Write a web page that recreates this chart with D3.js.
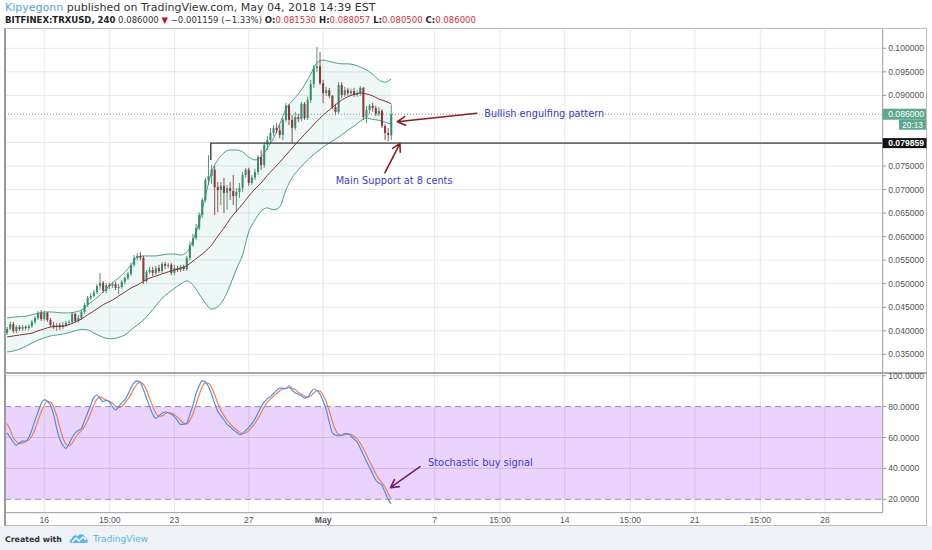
<!DOCTYPE html>
<html><head><meta charset="utf-8">
<script src="https://cdn.jsdelivr.net/npm/d3@7"></script>
<style>body{margin:0;background:#fff}svg{display:block}</style>
</head><body><svg id="c" width="932" height="550"></svg>
<script>
// ---------------- DATA ----------------
const candleStart = "2018-04-14T00:00:00Z";
const candleHours = 4;
const open = [.0395,.0404,.0414,.0400,.0408,.0404,.0408,.0406,.0410,.0419,
.0427,.0438,.0425,.0438,.0423,.0412,.0408,.0412,.0408,.0412,
.0417,.0419,.0436,.0421,.0427,.0440,.0455,.0470,.0474,.0482,
.0495,.0502,.0485,.0497,.0495,.0499,.0491,.0493,.0504,.0512,
.0521,.0540,.0555,.0559,.0555,.0506,.0525,.0529,.0523,.0533,
.0527,.0542,.0538,.0540,.0523,.0533,.0529,.0536,.0531,.0555,
.0582,.0597,.0618,.0646,.0678,.0720,.0729,.0742,.0705,.0699,
.0708,.0693,.0703,.0697,.0686,.0695,.0703,.0731,.0742,.0714,
.0725,.0737,.0769,.0752,.0795,.0805,.0820,.0831,.0826,.0816,
.0848,.0878,.0848,.0831,.0854,.0850,.0882,.0852,.0890,.0924,
.0958,.0962,.0926,.0905,.0911,.0899,.0875,.0865,.0922,.0901,
.0911,.0905,.0909,.0901,.0905,.0916,.0854,.0869,.0878,.0873,
.0861,.0867,.0835,.0820,.08153];
const high = [.0408,.0419,.0419,.0412,.0412,.0412,.0412,.0414,.0423,.0431,
.0442,.0444,.0442,.0440,.0427,.0419,.0417,.0417,.0419,.0421,
.0423,.0440,.0438,.0434,.0444,.0459,.0474,.0480,.0487,.0499,
.0523,.0506,.0502,.0502,.0504,.0504,.0499,.0508,.0516,.0525,
.0544,.0561,.0565,.0567,.0559,.0529,.0536,.0536,.0538,.0540,
.0546,.0546,.0544,.0544,.0540,.0538,.0540,.0540,.0559,.0589,
.0606,.0627,.0652,.0682,.0725,.0773,.0752,.0750,.0716,.0716,
.0725,.0710,.0716,.0731,.0703,.0714,.0737,.0746,.0746,.0731,
.0744,.0773,.0784,.0801,.0814,.0831,.0837,.0841,.0837,.0852,
.0884,.0882,.0858,.0865,.0861,.0886,.0886,.0897,.0933,.0965,
.1003,.0992,.0933,.0918,.0916,.0901,.0882,.0928,.0928,.0918,
.0916,.0914,.0916,.0911,.0920,.0918,.0878,.0882,.0884,.0878,
.0875,.0871,.0839,.0831,.088057];
const low = [.0391,.0402,.0395,.0395,.0400,.0400,.0402,.0402,.0406,.0414,
.0423,.0421,.0421,.0419,.0408,.0404,.0400,.0402,.0404,.0408,
.0412,.0414,.0417,.0417,.0423,.0436,.0451,.0465,.0470,.0478,
.0487,.0480,.0480,.0489,.0491,.0487,.0478,.0489,.0499,.0508,
.0516,.0536,.0550,.0550,.0499,.0502,.0521,.0516,.0518,.0523,
.0523,.0531,.0533,.0518,.0518,.0525,.0525,.0527,.0527,.0550,
.0578,.0593,.0614,.0640,.0673,.0710,.0712,.0646,.0652,.0667,
.0650,.0657,.0678,.0667,.0652,.0682,.0695,.0725,.0708,.0710,
.0720,.0731,.0742,.0746,.0784,.0799,.0814,.0820,.0809,.0805,
.0843,.0837,.0799,.0826,.0843,.0845,.0848,.0848,.0884,.0916,
.0950,.0922,.0884,.0899,.0894,.0871,.0858,.0861,.0894,.0897,
.0899,.0899,.0897,.0897,.0899,.0848,.0841,.0861,.0865,.0856,
.0856,.0831,.0805,.0803,.0805];
const close = [.0404,.0414,.0400,.0408,.0404,.0408,.0406,.0410,.0419,.0427,
.0438,.0425,.0438,.0423,.0412,.0408,.0412,.0408,.0412,.0417,
.0419,.0436,.0421,.0427,.0440,.0455,.0470,.0474,.0482,.0495,
.0502,.0485,.0497,.0495,.0499,.0491,.0493,.0504,.0512,.0521,
.0540,.0555,.0559,.0555,.0506,.0525,.0529,.0523,.0533,.0527,
.0542,.0538,.0540,.0523,.0533,.0529,.0536,.0531,.0555,.0582,
.0597,.0618,.0646,.0678,.0720,.0729,.0742,.0705,.0699,.0708,
.0693,.0703,.0697,.0686,.0695,.0703,.0731,.0742,.0714,.0725,
.0737,.0769,.0752,.0795,.0805,.0820,.0831,.0826,.0816,.0848,
.0878,.0848,.0831,.0854,.0850,.0882,.0852,.0890,.0924,.0958,
.0962,.0926,.0905,.0911,.0899,.0875,.0865,.0922,.0901,.0911,
.0905,.0909,.0901,.0905,.0916,.0854,.0869,.0878,.0873,.0861,
.0867,.0835,.0820,.0816,.0860];

// Bollinger Bands (20, 2) read every 2nd candle
const bbEvery = 2;
const bbUpper = [.0427,.0429,.0430,.0431,.0434,.0437,.0440,.0440,.0439,.0438,
.0438,.0440,.0444,.0455,.0465,.0476,.0489,.0502,.0512,.0525,
.0540,.0557,.0559,.0559,.0559,.0561,.0563,.0563,.0561,.0567,
.0593,.0631,.0686,.0737,.0763,.0778,.0784,.0784,.0780,.0769,
.0763,.0769,.0788,.0809,.0839,.0871,.0888,.0903,.0922,.0945,
.0969,.0975,.0972,.0969,.0967,.0967,.0965,.0960,.0954,.0945,
.0933,.0928,.0935];
const bbMiddle = [.0387,.0389,.0391,.0393,.0395,.0400,.0404,.0408,.0409,.0410,
.0413,.0419,.0425,.0434,.0442,.0451,.0459,.0465,.0474,.0482,
.0491,.0497,.0505,.0512,.0516,.0521,.0525,.0529,.0533,.0538,
.0548,.0558,.0569,.0582,.0601,.0618,.0638,.0654,.0669,.0686,
.0701,.0714,.0730,.0744,.0758,.0773,.0788,.0803,.0817,.0831,
.0845,.0858,.0869,.0880,.0890,.0897,.0902,.0905,.0903,.0899,
.0892,.0888,.0882];
const bbLower = [.0355,.0357,.0361,.0367,.0374,.0380,.0385,.0389,.0391,.0393,
.0396,.0400,.0403,.0402,.0395,.0389,.0384,.0383,.0386,.0391,
.0402,.0412,.0423,.0437,.0453,.0469,.0480,.0490,.0499,.0506,
.0497,.0478,.0459,.0446,.0451,.0468,.0497,.0531,.0561,.0610,
.0635,.0654,.0661,.0657,.0663,.0699,.0725,.0742,.0756,.0769,
.0780,.0790,.0799,.0807,.0816,.0826,.0835,.0845,.0852,.0849,
.0847,.0843,.0839];

// Stochastic %K and %D, one per candle
const stochK = [63,60,57,55,56.5,57.7,57.7,60,65,71,
76.5,82,84.3,83.5,81,75,66,59,55,53,
56,60,63,64.5,66,71,76,81,86,87.5,
85.3,83.2,84,83,80,77.8,80,82.5,84.3,88,
92,95.5,96.6,95.5,91,85.5,80,75,72.4,74,
75.7,76.5,76,75,73.5,71,68.5,68.5,69.5,75,
81,88.5,93.5,96.6,95.8,93,88,82,77,74,
71.5,68.5,67,65,63.5,61.8,62.5,64.5,66.5,69,
72,76,80,83,85,86.5,88.5,90.5,92,92,
91.5,93.5,90.5,89,88,87,85.5,86,89,91.4,
90.5,88,83.5,78,70,63,61.5,61.2,61.5,62.5,
62.5,61,59,57,53,48.7,44.5,40.5,36.5,32.5,
30.5,29,24.5,20,17];
const stochD = [69,65,60,57.3,56.2,56.4,57.3,58.5,61,65.3,
70.8,76.5,80.9,83.3,82.9,79.8,74,66.7,60,55.7,
54.7,56.3,59.7,62.5,64.5,67.2,71,76,81,84.8,
86.3,85.3,84.2,83.4,82.3,80.3,79.3,80.1,82.3,84.9,
88.1,91.8,94.7,95.9,94.4,90.7,85.5,80.2,75.8,73.8,
74,75.4,76.1,75.8,74.8,73.2,71,69.3,68.8,71,
75.2,81.5,87.7,92.9,95.3,95.1,92.3,87.7,82.3,77.7,
74.2,71.3,69,66.8,65.2,63.4,62.6,62.9,64.5,66.7,
69.2,72.3,76,79.7,82.7,84.8,86.7,88.5,90.3,91.5,
91.8,92.3,91.8,91,89.2,88,86.8,86.2,86.8,88.8,
90.3,90,87.3,83.2,77.2,70.3,64.8,61.9,61.4,61.7,
62.2,62,60.8,59,56.3,52.9,48.7,44.6,40.5,36.5,
33.2,30.7,28,23.8,20];

const priceTicks = [0.035,0.040,0.045,0.050,0.055,0.060,0.065,0.070,0.075,0.080,0.085,0.090,0.095,0.100];
const stochTicks = [20,40,60,80,100];
const stochBand = [20,80];
const timeTicks = ["2018-04-16T00:00Z","2018-04-19T12:30Z","2018-04-23T00:00Z","2018-04-27T00:00Z","2018-05-01T00:00Z","2018-05-07T00:00Z","2018-05-10T12:30Z","2018-05-14T00:00Z","2018-05-17T12:30Z","2018-05-21T00:00Z","2018-05-24T12:30Z","2018-05-28T00:00Z"];
const timeTickLabels = ["16","15:00","23","27","May","7","15:00","14","15:00","21","15:00","28"];
const viewRange = ["2018-04-13T21:17Z","2018-05-31T02:31Z"];
const priceRange = [0.031245, 0.103887];
const stochRange = [11.33, 101.1];

const lastPrice = 0.086, lastLabel = "0.086000", countdown = "20:13";
const supportPrice = 0.079859, supportLabel = "0.079859";
const supportStart = "2018-04-24T23:00Z", supportLegLow = 0.0763;

const annotations = [
  {text:"Bullish engulfing pattern", t:"2018-05-09T16:08Z", p:0.08534, panel:"price", width:120},
  {text:"Main Support at 8 cents", t:"2018-05-01T16:16Z", p:0.07118, panel:"price", width:117},
  {text:"Stochastic buy signal", t:"2018-05-06T15:26Z", p:41.4, panel:"stoch", width:105}
];
const arrows = [
  {from:["2018-05-09T06:19Z",0.08619], to:["2018-05-04T23:49Z",0.08441], panel:"price", color:"#8a1f1f"},
  {from:["2018-05-04T07:55Z",0.07358], to:["2018-05-05T03:17Z",0.07982], panel:"price", color:"#8a1f1f"},
  {from:["2018-05-06T05:07Z",41.1], to:["2018-05-04T15:01Z",27.5], panel:"stoch", color:"#6e1f6e"}
];

// ---------------- LAYOUT ----------------
const W = 932, H = 550;
const L = 5, R = 882.7, pTop = 30, pBot = 372, sTop = 374, sBot = 512.7;
const UP = "#3b8c6e", DOWN = "#8e3939";

const svg = d3.select("#c");
const t0 = new Date(candleStart).getTime();
const tOf = i => new Date(t0 + i * candleHours * 3600e3);

const x = d3.scaleTime().domain(viewRange.map(s => new Date(s))).range([L, R]);
const yP = d3.scaleLinear().domain(priceRange).range([pBot, pTop]);
const yS = d3.scaleLinear().domain(stochRange).range([sBot, sTop]);

// backgrounds
svg.append("rect").attr("width", W).attr("height", H).attr("fill", "#fff");
svg.append("rect").attr("x", 0).attr("y", 526).attr("width", W).attr("height", 24).attr("fill", "#eef1f5");

const defs = svg.append("defs");
defs.append("clipPath").attr("id", "cp").append("rect").attr("x", L).attr("y", pTop).attr("width", R - L).attr("height", pBot - pTop);
defs.append("clipPath").attr("id", "cs").append("rect").attr("x", L).attr("y", sTop).attr("width", R - L).attr("height", sBot - sTop);

// grids
const grid = svg.append("g");
grid.selectAll(".vg").data(timeTicks).join("line")
  .attr("x1", d => x(new Date(d))).attr("x2", d => x(new Date(d)))
  .attr("y1", pTop).attr("y2", sBot).attr("stroke", "#e8e8e8").attr("stroke-width", 1);
grid.selectAll(".hg").data(priceTicks).join("line")
  .attr("x1", L).attr("x2", R).attr("y1", d => yP(d)).attr("y2", d => yP(d))
  .attr("stroke", "#e8e8e8").attr("stroke-width", 1);

// ---------------- PRICE PANEL ----------------
const gp = svg.append("g").attr("clip-path", "url(#cp)");
const bbIdx = bbUpper.map((_, k) => k * bbEvery);
const area = d3.area().curve(d3.curveMonotoneX)
  .x(k => x(tOf(bbIdx[k]))).y0(k => yP(bbLower[k])).y1(k => yP(bbUpper[k]));
const lineOf = arr => d3.line().curve(d3.curveMonotoneX).x((d, k) => x(tOf(bbIdx[k]))).y(d => yP(d))(arr);
gp.append("path").attr("d", area(d3.range(bbUpper.length))).attr("fill", "rgba(38,160,145,0.08)");
gp.append("path").attr("d", lineOf(bbUpper)).attr("fill", "none").attr("stroke", "#45a190").attr("stroke-width", 1);
gp.append("path").attr("d", lineOf(bbLower)).attr("fill", "none").attr("stroke", "#45a190").attr("stroke-width", 1);

// candles
const step = x(tOf(1)) - x(tOf(0));
const bw = Math.max(1.6, step * 0.66);
const cg = gp.append("g");
const cd = open.map((o, i) => ({i, o, h: high[i], l: low[i], c: close[i]}));
cg.selectAll(".w").data(cd).join("line")
  .attr("x1", d => x(tOf(d.i))).attr("x2", d => x(tOf(d.i)))
  .attr("y1", d => yP(d.h)).attr("y2", d => yP(d.l))
  .attr("stroke", d => d.c >= d.o ? UP : DOWN).attr("stroke-width", 0.9);
cg.selectAll(".b").data(cd).join("rect")
  .attr("x", d => x(tOf(d.i)) - bw / 2).attr("width", bw)
  .attr("y", d => yP(Math.max(d.o, d.c)))
  .attr("height", d => Math.max(1, Math.abs(yP(d.o) - yP(d.c))))
  .attr("fill", d => d.c >= d.o ? UP : DOWN);

gp.append("path").attr("d", lineOf(bbMiddle)).attr("fill", "none").attr("stroke", "#8c2f36").attr("stroke-width", 1);

// last price dotted line
gp.append("line").attr("x1", L).attr("x2", R).attr("y1", yP(lastPrice)).attr("y2", yP(lastPrice))
  .attr("stroke", "#6f9f8c").attr("stroke-width", 1).attr("stroke-dasharray", "1 2");

// support line
gp.append("path")
  .attr("d", `M${x(new Date(supportStart))},${yP(supportLegLow)}V${yP(supportPrice)}H${R}`)
  .attr("fill", "none").attr("stroke", "#3a3a3a").attr("stroke-width", 1.4);

// ---------------- STOCH PANEL ----------------
const gs = svg.append("g").attr("clip-path", "url(#cs)");
gs.selectAll(".sg").data(stochTicks.filter(v => !stochBand.includes(v))).join("line")
  .attr("x1", L).attr("x2", R).attr("y1", d => yS(d)).attr("y2", d => yS(d))
  .attr("stroke", "#dcdcdc").attr("stroke-width", 1);
gs.append("rect").attr("x", L).attr("width", R - L)
  .attr("y", yS(stochBand[1])).attr("height", yS(stochBand[0]) - yS(stochBand[1]))
  .attr("fill", "rgba(160,60,250,0.22)");
gs.selectAll(".sb").data(stochBand).join("line")
  .attr("x1", L).attr("x2", R).attr("y1", d => yS(d)).attr("y2", d => yS(d))
  .attr("stroke", "#9a8ea6").attr("stroke-width", 1).attr("stroke-dasharray", "6 4");
const sLine = d3.line().curve(d3.curveMonotoneX).x((d, i) => x(tOf(i))).y(d => yS(d));
gs.append("path").attr("d", sLine(stochD)).attr("fill", "none").attr("stroke", "#ef7f4e").attr("stroke-width", 1.2);
gs.append("path").attr("d", sLine(stochK)).attr("fill", "none").attr("stroke", "#4a8fe6").attr("stroke-width", 1.2);

// ---------------- FRAME & AXES ----------------
const fr = svg.append("g").attr("fill", "none");
fr.append("rect").attr("x", 4.5).attr("y", 28.5).attr("width", 922).attr("height", 497).attr("stroke", "#bdbdbd");
fr.append("line").attr("x1", 5).attr("x2", 5).attr("y1", 28.5).attr("y2", 525.5).attr("stroke", "#9a9a9a").attr("stroke-width", 2);
fr.append("line").attr("x1", R).attr("x2", R).attr("y1", 28.5).attr("y2", sBot).attr("stroke", "#9a9a9a");
fr.append("line").attr("x1", 4).attr("x2", 927).attr("y1", 373).attr("y2", 373).attr("stroke", "#a8a8a8").attr("stroke-width", 2);
fr.append("line").attr("x1", 4).attr("x2", R).attr("y1", sBot).attr("y2", sBot).attr("stroke", "#9a9a9a");

const axFont = "Liberation Sans, Arial, sans-serif";
const yl = yP(lastPrice), ys = yP(supportPrice);
// tick labels hidden behind the price tags (as in the reference) are not drawn
const visiblePriceTicks = priceTicks.filter(d => !(yP(d) > yl - 8 && yP(d) < yl + 18) && Math.abs(yP(d) - ys) > 8);
const ax = svg.append("g").attr("font-family", axFont).attr("font-size", 8.6).attr("fill", "#555");
ax.selectAll(".pt").data(priceTicks).join("line")
  .attr("x1", R).attr("x2", R + 3.5).attr("y1", d => yP(d)).attr("y2", d => yP(d)).attr("stroke", "#999");
ax.selectAll(".pl").data(visiblePriceTicks).join("text")
  .attr("x", R + 5.5).attr("y", d => yP(d) + 3).text(d => d.toFixed(6));
ax.selectAll(".st").data(stochTicks).join("line")
  .attr("x1", R).attr("x2", R + 3.5).attr("y1", d => yS(d)).attr("y2", d => yS(d)).attr("stroke", "#999");
ax.selectAll(".sl").data(stochTicks).join("text")
  .attr("x", R + 5.5).attr("y", d => yS(d) + 3).text(d => d.toFixed(4));
ax.selectAll(".tl").data(timeTicks).join("text")
  .attr("x", d => x(new Date(d))).attr("y", 523).attr("text-anchor", "middle")
  .attr("font-weight", (d, i) => timeTickLabels[i] === "May" ? "bold" : "normal")
  .text((d, i) => timeTickLabels[i]);

// price tags
svg.append("rect").attr("x", R).attr("y", yl - 5.5).attr("width", 926 - R).attr("height", 11).attr("fill", "#5ea88d");
svg.append("rect").attr("x", 899).attr("y", yl + 5.5).attr("width", 27).attr("height", 10).attr("fill", "#5ea88d");
svg.append("text").attr("x", R + 5.5).attr("y", yl + 3).attr("font-family", axFont).attr("font-size", 8.6).attr("fill", "#fff").text(lastLabel);
svg.append("text").attr("x", 912.5).attr("y", yl + 13.5).attr("text-anchor", "middle").attr("font-family", axFont).attr("font-size", 8.2).attr("fill", "#fff").text(countdown);
svg.append("rect").attr("x", R).attr("y", ys - 5).attr("width", 926.5 - R).attr("height", 10).attr("fill", "#111");
svg.append("text").attr("x", R + 5.5).attr("y", ys + 3).attr("font-family", axFont).attr("font-size", 8.6).attr("font-weight", "bold").attr("fill", "#fff").text(supportLabel);

// ---------------- ANNOTATIONS ----------------
function fit(sel, target) {
  const w = sel.node().getComputedTextLength();
  const fs = parseFloat(sel.attr("font-size"));
  if (w > 0) sel.attr("font-size", fs * target / w);
}
const yOf = (panel, v) => panel === "price" ? yP(v) : yS(v);
annotations.forEach(a => {
  const t = svg.append("text").attr("x", x(new Date(a.t))).attr("y", yOf(a.panel, a.p))
    .attr("font-family", "DejaVu Sans, Verdana, sans-serif").attr("font-size", 10).attr("fill", "#3b3bd6").text(a.text);
  fit(t, a.width);
});
arrows.forEach(a => {
  const x1 = x(new Date(a.from[0])), y1 = yOf(a.panel, a.from[1]);
  const x2 = x(new Date(a.to[0])), y2 = yOf(a.panel, a.to[1]);
  const ang = Math.atan2(y1 - y2, x1 - x2), len = 9, sp = 0.5;
  const p = d3.path();
  p.moveTo(x1, y1); p.lineTo(x2, y2);
  p.moveTo(x2 + len * Math.cos(ang + sp), y2 + len * Math.sin(ang + sp));
  p.lineTo(x2, y2);
  p.lineTo(x2 + len * Math.cos(ang - sp), y2 + len * Math.sin(ang - sp));
  svg.append("path").attr("d", p.toString()).attr("fill", "none").attr("stroke", a.color)
    .attr("stroke-width", 1.6).attr("stroke-linecap", "round").attr("stroke-linejoin", "round");
});

// ---------------- HEADER ----------------
const hf = "DejaVu Sans, Verdana, sans-serif";
const h1 = svg.append("text").attr("x", 5).attr("y", 11).attr("font-family", hf).attr("font-size", 10).attr("fill", "#333");
h1.append("tspan").attr("fill", "#4fa6e0").text("Kipyegonn");
h1.append("tspan").text(" published on TradingView.com, May 04, 2018 14:39 EST");
fit(h1, 371);
const h2 = svg.append("text").attr("x", 5).attr("y", 23).attr("font-family", hf).attr("font-size", 9).attr("fill", "#333");
const parts = [
  ["BITFINEX:TRXUSD, 240", "#222", "bold"], [" 0.086000 ", "#333", "normal"], ["▼", "#c2171c", "normal"],
  [" −0.001159 (−1.33%) ", "#333", "normal"],
  ["O:", "#222", "bold"], ["0.081530", "#d0313a", "normal"], [" H:", "#222", "bold"], ["0.088057", "#d0313a", "normal"],
  [" L:", "#222", "bold"], ["0.080500", "#d0313a", "normal"], [" C:", "#222", "bold"], ["0.086000", "#d0313a", "normal"]
];
parts.forEach(([s, c, w]) => h2.append("tspan").attr("fill", c).attr("font-weight", w).text(s));
fit(h2, 472);

// ---------------- FOOTER ----------------
const f1 = svg.append("text").attr("x", 5).attr("y", 542).attr("font-family", hf).attr("font-size", 10)
  .attr("font-weight", "bold").attr("fill", "#333").text("Created with");
fit(f1, 57);
const logo = svg.append("g").attr("transform", "translate(69,533)");
logo.append("path").attr("d", "M2,10 C0,10 0,6 3,6 C3,3 6,1 9,3 C11,0 16,1 16,5 C19,5 20,10 17,10 Z").attr("fill", "#5cb6e6");
logo.append("path").attr("d", "M3,9 L7,5 L10,8 L14,4 L17,7").attr("fill", "none").attr("stroke", "#fff").attr("stroke-width", 1.3);
const f2 = svg.append("text").attr("x", 93).attr("y", 542).attr("font-family", hf).attr("font-size", 10)
  .attr("fill", "#5cb6e6").text("TradingView");
fit(f2, 55);
</script></body></html>
